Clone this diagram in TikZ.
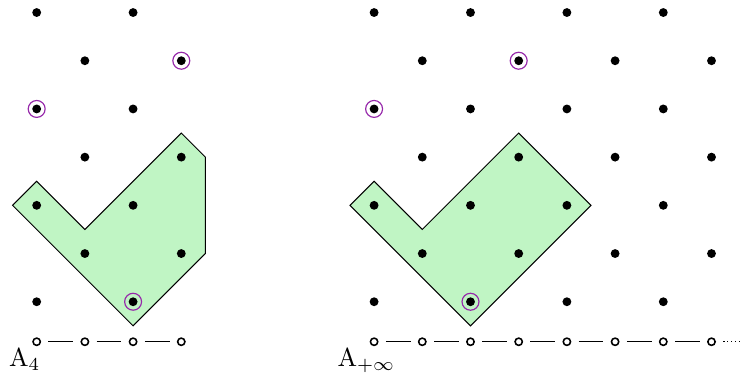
\documentclass[tikz,border=0pt]{standalone}
\usepackage{xcolor}
\usepackage{tikz}
\usetikzlibrary{positioning}

\definecolor{cellgreen}{RGB}{192,245,196}
\definecolor{ringpurple}{RGB}{150,40,170}

\begin{document}
\begin{tikzpicture}[x=0.65cm, y=0.65cm, font=\normalsize,
    dot/.style={circle, fill=black, inner sep=0pt, minimum size=3.4pt},
    ring/.style={circle, draw=ringpurple, line width=0.45pt, inner sep=0pt, minimum size=6.5pt},
    vert/.style={circle, draw, line width=0.6pt, fill=white, inner sep=0pt, minimum size=2.8pt},
    link/.style={line width=0.5pt, shorten <=2.8pt, shorten >=2.8pt},
    region/.style={draw, line width=0.4pt, fill=cellgreen, line join=miter}]

\useasboundingbox (-0.761,-1.5) rectangle (14.633,6.26);

% shaded regions
\fill[region] (-0.5,2) -- (0,2.5) -- (1,1.5) -- (3,3.5) -- (3.5,3) -- (3.5,1) -- (2,-0.5) -- cycle;
\fill[region] (6.5,2) -- (7,2.5) -- (8,1.5) -- (10,3.5) -- (11.5,2) -- (9,-0.5) -- cycle;

% lattice points
\foreach \i in {0,...,3}
  \foreach \j in {0,...,6} {
    \pgfmathtruncatemacro\parity{mod(\i+\j,2)}
    \ifnum\parity=0 \node[dot] (L\i-\j) at (\i,\j) {}; \fi
  }
\foreach \i in {0,...,7}
  \foreach \j in {0,...,6} {
    \pgfmathtruncatemacro\parity{mod(\i+\j,2)}
    \ifnum\parity=0 \node[dot] (R\i-\j) at (\i+7,\j) {}; \fi
  }

% marked points
\foreach \p in {L3-5, L0-4, L2-0, R3-5, R0-4, R2-0}
  \node[ring] (ring-\p) at (\p) {};

% Dynkin diagrams
\foreach \i in {0,...,3}
  \node[vert] (la\i) at (\i,-0.83) {};
\foreach \i in {0,...,7}
  \node[vert] (ra\i) at (\i+7,-0.83) {};
\coordinate (tail) at (14.633,-0.83);

\draw[link] (la0) -- (la1);
\draw[link] (la1) -- (la2);
\draw[link] (la2) -- (la3);
\foreach \i [evaluate=\i as \k using int(\i+1)] in {0,...,6}
  \draw[link] (ra\i) -- (ra\k);
\draw[densely dotted, line width=0.5pt, shorten <=2.8pt] (ra7) -- (tail);

\node[anchor=base] (labA) at (-0.25,-1.35) {$\mathrm{A}_4$};
\node[anchor=base] (labB) at (6.84,-1.35) {$\mathrm{A}_{+\infty}$};
\end{tikzpicture}
\end{document}
